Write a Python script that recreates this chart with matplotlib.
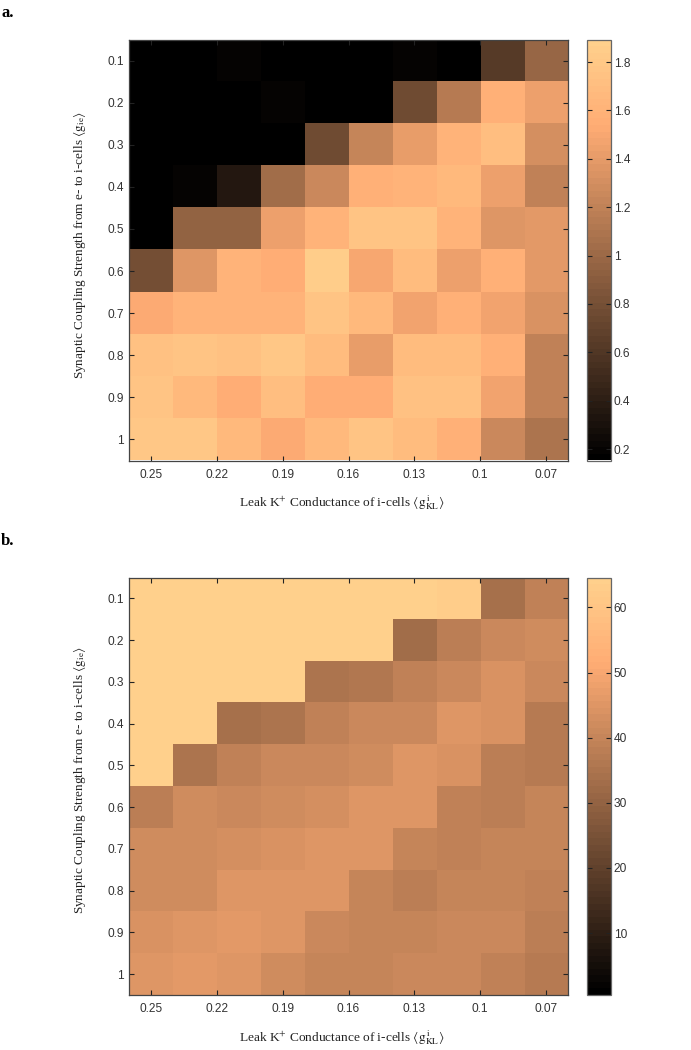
import matplotlib
matplotlib.use('Agg')
import matplotlib.pyplot as plt
import numpy as np
from matplotlib.colors import LinearSegmentedColormap

plt.rcParams['font.family'] = ['Liberation Sans']
plt.rcParams['mathtext.fontset'] = 'stix'

W = 691.0
H = 1050.0

# grid of the two maps
gL = [0.25, 0.23, 0.21, 0.19, 0.17, 0.15, 0.13, 0.11, 0.09, 0.07]
gie = [0.1, 0.2, 0.3, 0.4, 0.5, 0.6, 0.7, 0.8, 0.9, 1.0]

xticks = [0.25, 0.22, 0.19, 0.16, 0.13, 0.10, 0.07]
xticklabels = ['0.25', '0.22', '0.19', '0.16', '0.13', '0.1', '0.07']
yticklabels = ['0.1', '0.2', '0.3', '0.4', '0.5', '0.6', '0.7', '0.8', '0.9', '1']

# panel a, one row per gie value
a_vals = [
    [.155, .155, .20, .155, .155, .155, .19, .155, .62, .98],
    [.155, .155, .155, .19, .155, .155, .76, 1.14, 1.57, 1.45],
    [.155, .155, .155, .155, .76, 1.22, 1.42, 1.60, 1.72, 1.30],
    [.155, .20, .35, 1.05, 1.25, 1.57, 1.62, 1.66, 1.45, 1.20],
    [.155, .95, .95, 1.45, 1.62, 1.76, 1.76, 1.62, 1.35, 1.38],
    [.78, 1.35, 1.62, 1.56, 1.85, 1.50, 1.68, 1.45, 1.58, 1.38],
    [1.52, 1.60, 1.60, 1.60, 1.78, 1.65, 1.48, 1.58, 1.47, 1.33],
    [1.75, 1.78, 1.74, 1.80, 1.68, 1.43, 1.68, 1.70, 1.57, 1.20],
    [1.78, 1.66, 1.56, 1.72, 1.55, 1.55, 1.75, 1.75, 1.47, 1.20],
    [1.80, 1.80, 1.65, 1.52, 1.65, 1.76, 1.68, 1.58, 1.25, 1.10],
]
a_lim = [0.153, 1.893]
a_cticks = [0.2, 0.4, 0.6, 0.8, 1.0, 1.2, 1.4, 1.6, 1.8]
a_clabels = ['0.2', '0.4', '0.6', '0.8', '1', '1.2', '1.4', '1.6', '1.8']

# panel b
b_vals = [
    [64.5, 64.5, 64.5, 64.5, 64.5, 64.5, 64.5, 63, 34, 39],
    [64.5, 64.5, 64.5, 64.5, 64.5, 64.5, 33.5, 38, 41, 42],
    [64.5, 64.5, 64.5, 64.5, 35, 36, 39, 41, 44, 41],
    [64.5, 64.5, 34, 35, 39.5, 41, 41.5, 45, 44, 37],
    [64.5, 35, 39, 41, 41.5, 42, 45, 44, 38, 37.5],
    [38, 42.5, 41, 42, 43, 45, 45, 39.5, 38, 40],
    [42.5, 42.5, 43, 44, 45, 45, 40.5, 39.5, 40.5, 40],
    [42, 42, 45, 45, 45, 40.5, 38.5, 40, 40, 39],
    [44, 45, 46, 45, 41, 40, 40, 41.5, 41, 38.5],
    [45.5, 46, 45, 42, 40, 40, 41.5, 41.5, 39, 37.5],
]
b_lim = [0.5, 64.6]
b_cticks = [10, 20, 30, 40, 50, 60]
b_clabels = ['10', '20', '30', '40', '50', '60']

# copper, a bit lighter than the matplotlib one
cmap = LinearSegmentedColormap.from_list(
    'lightcopper',
    [(0.0, (0, 0, 0)), (0.8, (1.0, 0.675, 0.455)), (1.0, (1.0, 0.816, 0.55))],
    N=64)

xlab = r'Leak K$^{+}$ Conductance of i-cells $\langle\mathrm{g}^{\,\mathrm{i}}_{\mathrm{KL}}\rangle$'
ylab = r'Synaptic Coupling Strength from e- to i-cells $\langle\mathrm{g}_{\mathrm{ie}}\rangle$'


def box(x0, y0, x1, y1):
    return [x0 / W, 1 - y1 / H, (x1 - x0) / W, (y1 - y0) / H]


def panel(fig, vals, lim, cticks, clabels, y0, y1, xlab_y, ylab_y):
    ax = fig.add_axes(box(129, y0, 568, y1))
    im = ax.imshow(np.array(vals), cmap=cmap, vmin=lim[0], vmax=lim[1], aspect='auto',
                   interpolation='nearest', extent=[0.26, 0.06, 1.05, 0.05])
    ax.set_xticks(xticks)
    ax.set_xticklabels(xticklabels)
    ax.set_yticks(gie)
    ax.set_yticklabels(yticklabels)
    ax.tick_params(direction='in', top=True, right=True, length=3.4, width=0.8,
                   color='#222222', labelsize=8.6, labelcolor='#333333')
    ax.tick_params(axis='x', pad=6)
    ax.tick_params(axis='y', pad=3.5)
    for s in ax.spines.values():
        s.set_linewidth(0.9)
        s.set_color('#444444')

    cax = fig.add_axes(box(587, y0, 611, y1))
    cb = fig.colorbar(im, cax=cax)
    cb.set_ticks(cticks)
    cb.set_ticklabels(clabels)
    cax.tick_params(direction='in', left=True, right=True, length=3.4, width=0.8,
                    color='#222222', labelsize=8.6, labelcolor='#333333', pad=2)
    cb.outline.set_linewidth(0.9)
    cb.outline.set_edgecolor('#666666')

    fig.text(342 / W, 1 - xlab_y / H, xlab, family='Liberation Serif', fontsize=9.6,
             ha='center', va='center', color='#222222')
    fig.text(80 / W, 1 - ylab_y / H, ylab, family='Liberation Serif', fontsize=9.5,
             rotation=90, ha='center', va='center', color='#222222')


fig = plt.figure(figsize=(W / 100, H / 100), dpi=100)

panel(fig, a_vals, a_lim, a_cticks, a_clabels, 39.5, 460.5, 503, 245)
panel(fig, b_vals, b_lim, b_cticks, b_clabels, 577.5, 995, 1038, 780)

fig.text(1 / W, 1 - 13 / H, 'a.', family='Liberation Serif', fontweight='bold',
         fontsize=12, ha='left', va='center')
fig.text(1 / W, 1 - 541 / H, 'b.', family='Liberation Serif', fontweight='bold',
         fontsize=12, ha='left', va='center')

fig.savefig('out.png', dpi=100)
